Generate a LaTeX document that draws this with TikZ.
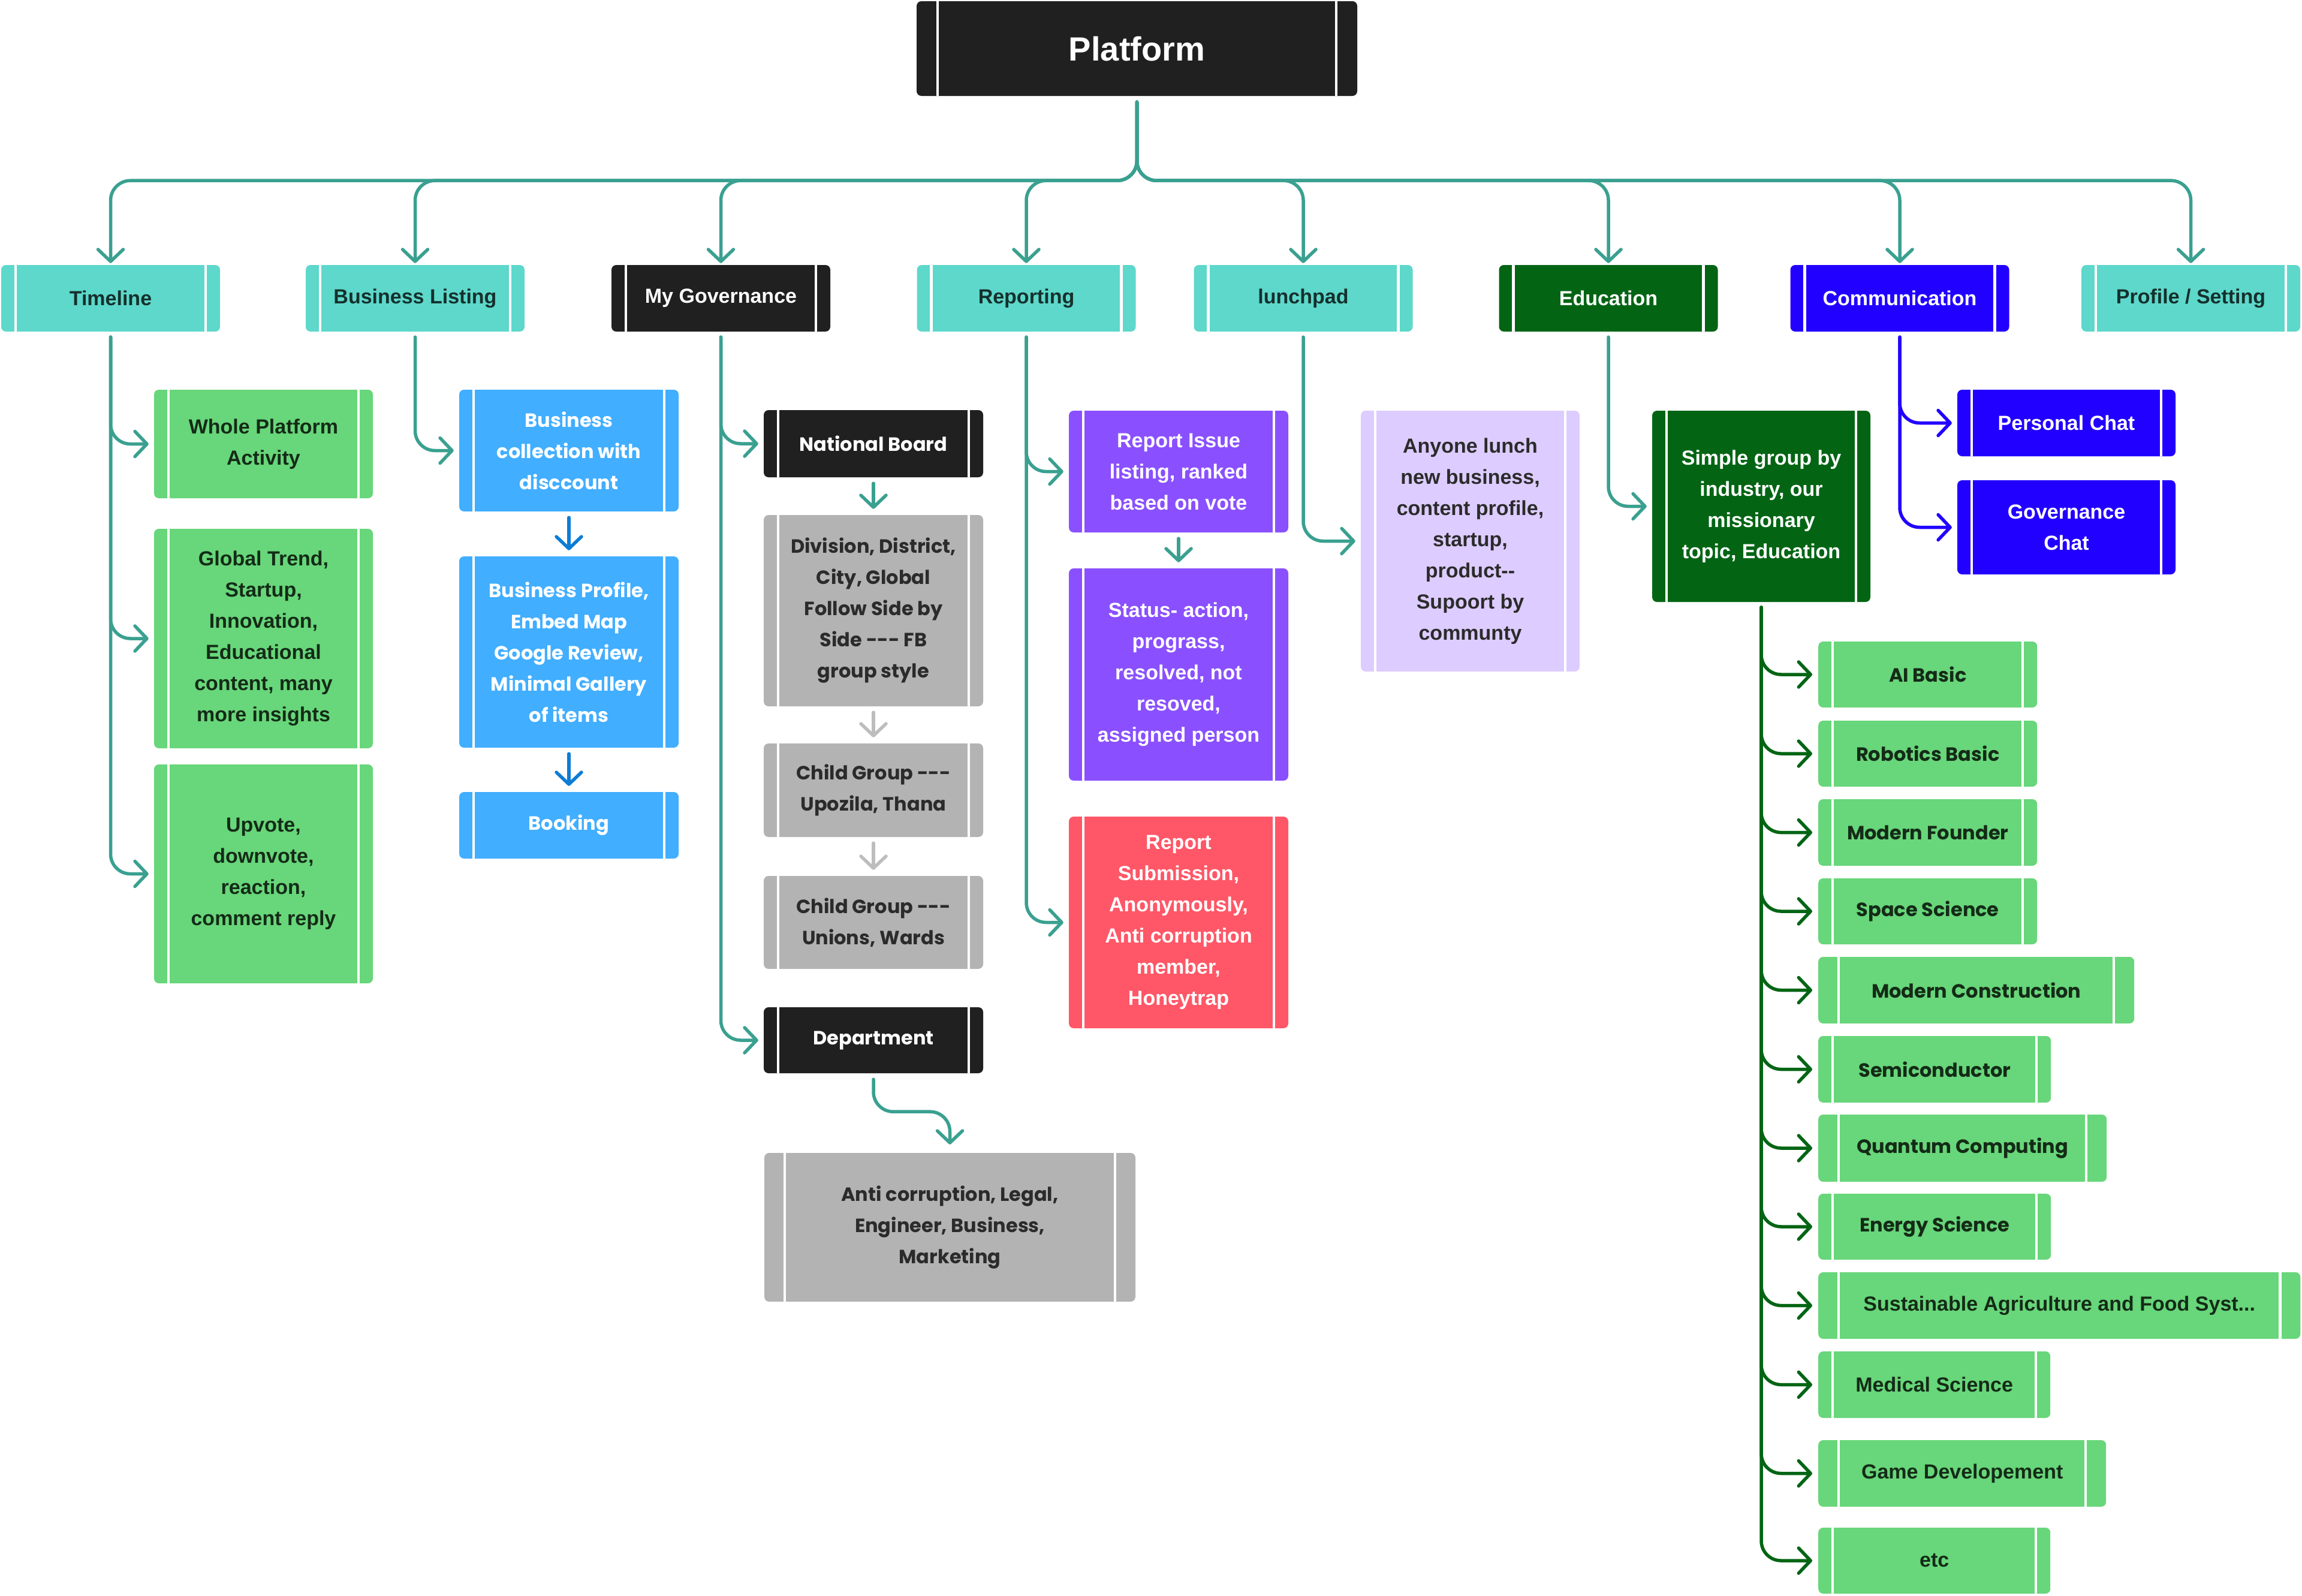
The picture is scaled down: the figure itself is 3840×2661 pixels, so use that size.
\documentclass[tikz,border=0pt]{standalone}
\usepackage{fontspec}
\usetikzlibrary{arrows.meta}
\newfontfamily\interf{Liberation Sans}
\newfontfamily\montf{Poppins}
\newcommand\fntI{\interf\bfseries\fontsize{34}{52}\selectfont}
\newcommand\fntM{\montf\bfseries\fontsize{32}{52}\selectfont}
\newcommand\fntP{\interf\bfseries\fontsize{56}{64}\selectfont}
\definecolor{cTeal}{HTML}{5DD8CB}
\definecolor{cTealTxt}{HTML}{15302C}
\definecolor{cGreen}{HTML}{68D67A}
\definecolor{cGreenTxt}{HTML}{142B17}
\definecolor{cBlueL}{HTML}{41AEFF}
\definecolor{cBlueArrow}{HTML}{0C7DD6}
\definecolor{cBlack}{HTML}{202020}
\definecolor{cGray}{HTML}{B3B3B3}
\definecolor{cGrayTxt}{HTML}{2B2B2B}
\definecolor{cGrayArrow}{HTML}{BDBDBD}
\definecolor{cPurple}{HTML}{8A50FF}
\definecolor{cRed}{HTML}{FF5767}
\definecolor{cLav}{HTML}{DDCCFF}
\definecolor{cDkGreen}{HTML}{036514}
\definecolor{cBlue}{HTML}{2200FF}
\definecolor{cConn}{HTML}{3AA090}
\def\boxoff{24pt}
\tikzset{
  ioff/.code={\def\boxoff{#1}},
  wh/.style 2 args={minimum width=#1pt, minimum height=#2pt},
  box/.style={rectangle, rounded corners=8pt, inner sep=0pt, align=center,
    path picture={\draw[white, line width=4.5pt]
      ([xshift=\boxoff]path picture bounding box.north west) -- ([xshift=\boxoff]path picture bounding box.south west)
      ([xshift=-\boxoff]path picture bounding box.north east) -- ([xshift=-\boxoff]path picture bounding box.south east);}},
  tealbox/.style={box, fill=cTeal, text=cTealTxt, font=\fntI},
  greenbox/.style={box, fill=cGreen, text=cGreenTxt, font=\fntI},
  greenboxm/.style={box, fill=cGreen, text=cGreenTxt, font=\fntM},
  bluelbox/.style={box, fill=cBlueL, text=white, font=\fntM},
  blackbox/.style={box, fill=cBlack, text=white, font=\fntI},
  blackboxm/.style={box, fill=cBlack, text=white, font=\fntM},
  graybox/.style={box, fill=cGray, text=cGrayTxt, font=\fntM},
  purplebox/.style={box, fill=cPurple, text=white, font=\fntI},
  redbox/.style={box, fill=cRed, text=white, font=\fntI},
  lavbox/.style={box, fill=cLav, text=cGrayTxt, font=\fntI},
  dkgreenbox/.style={box, fill=cDkGreen, text=white, font=\fntI},
  bluebox/.style={box, fill=cBlue, text=white, font=\fntI},
  conn/.style={line width=5.5pt, draw=cConn, rounded corners=33pt, line cap=round,
    -{Straight Barb[length=20pt,width=42pt,round]}},
  gconn/.style={conn, draw=cDkGreen},
  bconn/.style={conn, draw=cBlue},
  vconn/.style={conn, shorten <=10pt, shorten >=10pt},
}
\begin{document}
\begin{tikzpicture}[x=1pt,y=-1pt]
\useasboundingbox (0,0) rectangle (3840,2661);

% top
\node[blackbox, font=\fntP, ioff=35pt, wh={735}{158}] (plat) at (1896.5,81) {Platform};

% level 1
\node[tealbox, wh={365}{111}] (tl) at (184.5,497.5) {Timeline};
\node[tealbox, wh={365}{111}] (bl) at (692.5,497.5) {Business Listing};
\node[blackbox, wh={365}{111}] (gov) at (1202.5,497.5) {My Governance};
\node[tealbox, wh={365}{111}] (rep) at (1712,497.5) {Reporting};
\node[tealbox, wh={365}{111}] (lp) at (2174,497.5) {lunchpad};
\node[dkgreenbox, wh={365}{111}] (edu) at (2683,497.5) {Education};
\node[bluebox, wh={365}{111}] (com) at (3169,497.5) {Communication};
\node[tealbox, wh={365}{111}] (prof) at (3654.5,497.5) {Profile / Setting};

\foreach \c in {tl,bl,gov,rep,lp,edu,com,prof}
  \draw[conn, shorten <=10pt, shorten >=3pt] (plat.south) -- ++(0,141) -| (\c.north);

% timeline
\node[greenbox, wh={365}{181}] (wpa) at (439.5,740.5) {Whole Platform\\Activity};
\node[greenbox, wh={365}{366}] (glob) at (439.5,1065) {Global Trend,\\Startup,\\Innovation,\\Educational\\content, many\\more insights};
\node[greenbox, wh={365}{365}] (upv) at (439.5,1457.5) {Upvote,\\downvote,\\reaction,\\comment reply};
\foreach \c in {wpa,glob,upv}
  \draw[conn, shorten <=9pt, shorten >=9pt] (tl.south) |- (\c.west);

% business listing
\node[bluelbox, wh={366}{203}] (bcol) at (949,751.5) {Business\\collection with\\disccount};
\node[bluelbox, wh={366}{319}] (bprof) at (949,1087.5) {Business Profile,\\Embed Map\\Google Review,\\Minimal Gallery\\of items};
\node[bluelbox, wh={366}{111}] (book) at (949,1376.5) {Booking};
\draw[conn, shorten <=9pt, shorten >=9pt] (bl.south) |- (bcol.west);
\draw[vconn, draw=cBlueArrow] (bcol.south) -- (bprof.north);
\draw[vconn, draw=cBlueArrow] (bprof.south) -- (book.north);

% governance
\node[blackboxm, wh={366}{112}] (nb) at (1457,740) {National Board};
\node[graybox, wh={366}{319}] (div) at (1457,1018.5) {Division, District,\\City, Global\\Follow Side by\\Side -{}-{}- FB\\group style};
\node[graybox, wh={366}{156}] (cga) at (1457,1318) {Child Group -{}-{}-\\Upozila, Thana};
\node[graybox, wh={366}{155}] (cgb) at (1457,1538.5) {Child Group -{}-{}-\\Unions, Wards};
\node[blackboxm, wh={366}{110}] (dept) at (1457,1735) {Department};
\node[graybox, ioff=34pt, wh={619}{248}] (anti) at (1584.5,2047) {Anti corruption, Legal,\\Engineer, Business,\\Marketing};
\draw[conn, shorten <=9pt, shorten >=9pt] (gov.south) |- (nb.west);
\draw[conn, shorten <=9pt, shorten >=9pt] (gov.south) |- (dept.west);
\draw[vconn] (nb.south) -- (div.north);
\draw[vconn, draw=cGrayArrow] (div.south) -- (cga.north);
\draw[vconn, draw=cGrayArrow] (cga.south) -- (cgb.north);
\draw[conn, shorten <=10pt, shorten >=14pt] (dept.south) -- ++(0,64) -| (anti.north);

% reporting
\node[purplebox, wh={366}{203}] (issue) at (1966,786.5) {Report Issue\\listing, ranked\\based on vote};
\node[purplebox, wh={366}{354}] (status) at (1966,1125) {Status- action,\\prograss,\\resolved, not\\resoved,\\assigned person};
\node[redbox, wh={366}{353}] (subm) at (1966,1538.5) {Report\\Submission,\\Anonymously,\\Anti corruption\\member,\\Honeytrap};
\draw[conn, shorten <=9pt, shorten >=9pt] (rep.south) |- (issue.west);
\draw[conn, shorten <=9pt, shorten >=9pt] (rep.south) |- (subm.west);
\draw[vconn] (issue.south) -- (status.north);

% lunchpad
\node[lavbox, wh={365}{435}] (lunch) at (2452.5,902.5) {Anyone lunch\\new business,\\content profile,\\startup,\\product-{}-\\Supoort by\\communty};
\draw[conn, shorten <=9pt, shorten >=9pt] (lp.south) |- (lunch.west);

% education
\node[dkgreenbox, wh={364}{319}] (simple) at (2938,844.5) {Simple group by\\industry, our\\missionary\\topic, Education};
\draw[conn, shorten <=9pt, shorten >=9pt] (edu.south) |- (simple.west);

\node[greenboxm, anchor=west, wh={365}{110}] (ai) at (3033,1125) {AI Basic};
\node[greenboxm, anchor=west, wh={365}{110}] (robo) at (3033,1257) {Robotics Basic};
\node[greenboxm, anchor=west, wh={365}{111}] (mf) at (3033,1388.5) {Modern Founder};
\node[greenboxm, anchor=west, wh={365}{110}] (space) at (3033,1520) {Space Science};
\node[greenboxm, anchor=west, ioff=34pt, wh={527}{111}] (mc) at (3033,1651.5) {Modern Construction};
\node[greenboxm, anchor=west, wh={388}{111}] (semi) at (3033,1783.5) {Semiconductor};
\node[greenboxm, anchor=west, ioff=34pt, wh={481}{112}] (qc) at (3033,1915) {Quantum Computing};
\node[greenboxm, anchor=west, wh={388}{110}] (energy) at (3033,2046) {Energy Science};
\node[greenbox, anchor=west, ioff=34pt, wh={804}{111}] (sust) at (3033,2177.5) {Sustainable Agriculture and Food Syst...};
\node[greenbox, anchor=west, wh={387}{111}] (med) at (3033,2309.5) {Medical Science};
\node[greenbox, anchor=west, ioff=34pt, wh={480}{111}] (game) at (3033,2457.5) {Game Developement};
\node[greenbox, anchor=west, wh={387}{110}] (etc) at (3033,2603) {etc};
\foreach \c in {ai,robo,mf,space,mc,semi,qc,energy,sust,med,game,etc}
  \draw[gconn, shorten <=9pt, shorten >=10pt] (simple.south) |- (\c.west);

% communication
\node[bluebox, wh={364}{111}] (pchat) at (3447,705.5) {Personal Chat};
\node[bluebox, wh={364}{157}] (gchat) at (3447,879.5) {Governance\\Chat};
\draw[bconn, shorten <=9pt, shorten >=9pt] (com.south) |- (pchat.west);
\draw[bconn, shorten <=9pt, shorten >=9pt] (com.south) |- (gchat.west);

\end{tikzpicture}
\end{document}
